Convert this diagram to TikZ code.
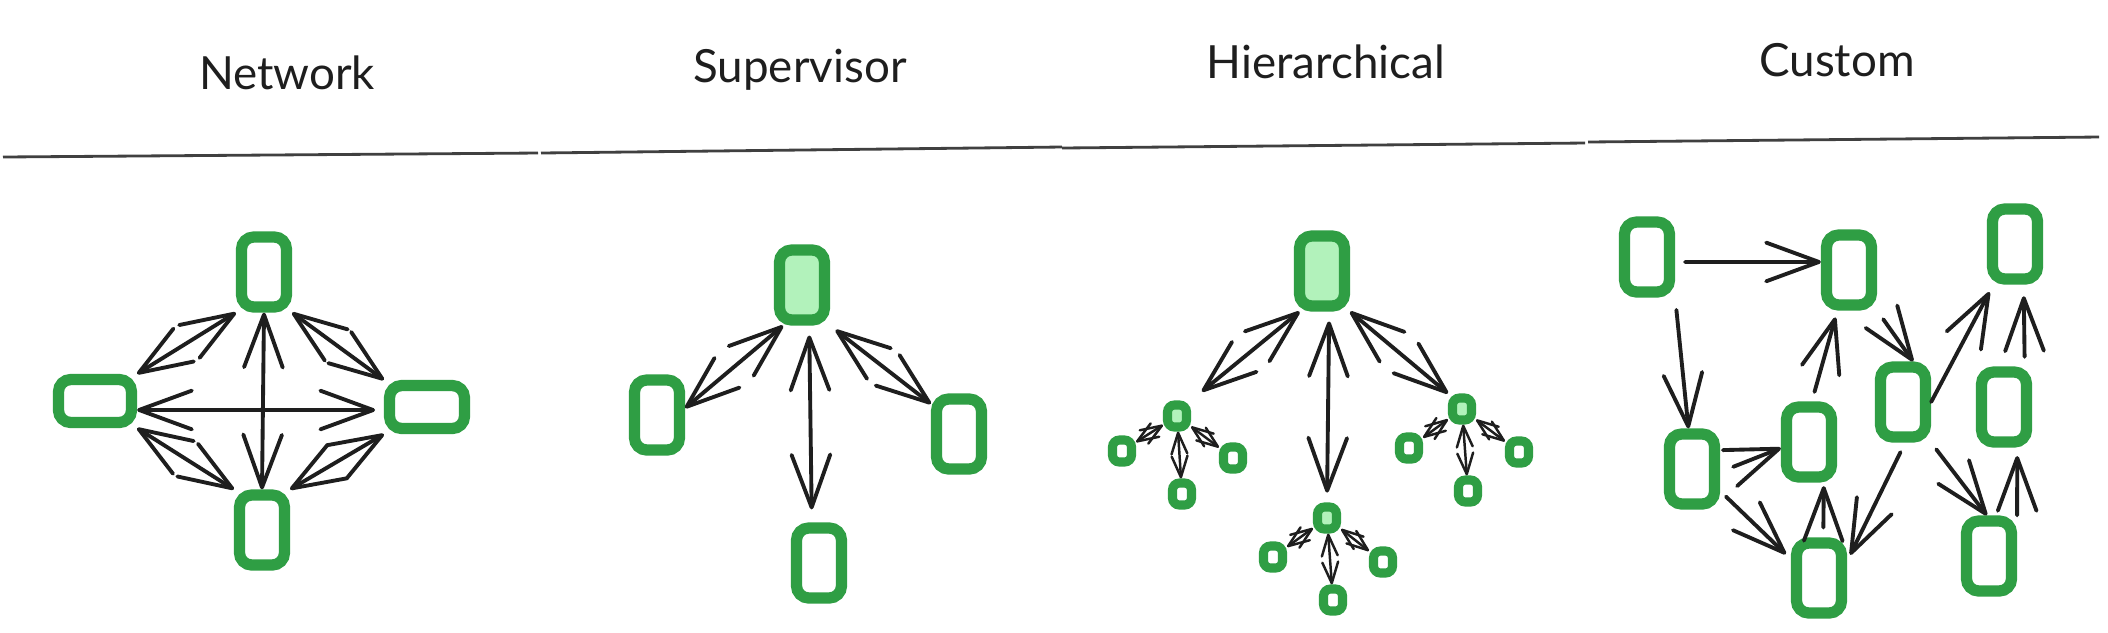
\documentclass[tikz,border=0pt]{standalone}
\usepackage{fontspec}
\setmainfont{Lato}
\usetikzlibrary{arrows.meta}

\definecolor{agentgreen}{HTML}{2F9E44}
\definecolor{agentfill}{HTML}{B2F2BB}
\definecolor{ink}{HTML}{1E1E1E}

\begin{document}
\begin{tikzpicture}[x=0.01cm, y=-0.01cm,
  agent/.style={draw=agentgreen, line width=3.2pt, rounded corners=3.5pt, inner sep=0pt, minimum width=0.45cm, minimum height=0.7cm},
  agentwide/.style={agent, minimum width=0.73cm, minimum height=0.43cm},
  boss/.style={agent, fill=agentfill},
  subagent/.style={draw=agentgreen, line width=2.6pt, rounded corners=2pt, inner sep=0pt, minimum width=0.19cm, minimum height=0.22cm},
  subboss/.style={subagent, fill=agentfill},
  link/.style={draw=ink, line width=1.1pt, line cap=round, >={Straight Barb[length=15pt,width=11pt,round]}},
  twig/.style={draw=ink, line width=0.7pt, line cap=round, >={Straight Barb[length=6pt,width=4.5pt,round]}},
  header/.style={font=\fontsize{13}{15}\selectfont, text=ink, anchor=base, inner sep=0pt},
  rule/.style={draw=ink!85, line width=0.8pt}
]
\useasboundingbox[fill=white] (0,0) rectangle (2108,632);

% headers
\node[header](tnet) at (287, 89) {Network};
\node[header](tsup) at (800, 82) {Supervisor};
\node[header](thie) at (1326, 78) {Hierarchical};
\node[header](tcus) at (1837, 76) {Custom};

\draw[rule] (3,157) -- (538,153);
\draw[rule] (541,153) -- (1062,147);
\draw[rule] (1062,148) -- (1585,143);
\draw[rule] (1588,142) -- (2099,137);

% network
\node[agent](nt) at (264, 272) {};
\node[agentwide](nl) at (95, 401) {};
\node[agentwide, minimum width=0.75cm](nr) at (427, 407) {};
\node[agent](nb) at (262, 530) {};

\draw[link,<->] (nl.north east) -- (nt.south west);
\draw[link,<->,shorten >=2.5pt] (nl.-12) -- (nr.184);
\draw[link,<->] (nt.south) -- (nb.north);
\draw[link,<->] (nl.south east) -- (nb.north west);
\draw[link,<->] (nb.north east) -- (nr.south west);
\draw[link,<->] (nt.south east) -- (nr.north west);

% supervisor
\node[boss](sv) at (802, 285) {};
\node[agent](sa) at (657, 415) {};
\node[agent](sb) at (819, 563) {};
\node[agent](sc) at (959, 434) {};

\draw[link,<->] (sv.-115) -- (sa.14);
\draw[link,<->,shorten <=2.8pt,shorten >=3.7pt] (sv.-80) -- (sb.100);
\draw[link,<->,shorten <=2pt] (sv.south east) -- (sc.133);

% hierarchical
\node[boss](hr) at (1322, 271) {};
\node[subboss](ha) at (1177, 416) {};
\node[subboss](hb) at (1327, 518) {};
\node[subboss](hc) at (1462, 409) {};

\draw[link,<->,shorten >=4pt] (hr.-119) -- (ha.north east);
\draw[link,<->,shorten <=2.8pt,shorten >=2.8pt] (hr.-80) -- (hb.north);
\draw[link,<->] (hr.south east) -- (hc.north west);

  % left team
\node[subagent](ha1) at (1122, 451) {};
\node[subagent](ha2) at (1182, 494) {};
\node[subagent](ha3) at (1233, 458) {};
\draw[twig,<->] (ha) -- (ha1);
\draw[twig,<->] (ha) -- (ha2);
\draw[twig,<->] (ha) -- (ha3);
  % middle team
\node[subagent](hb1) at (1273, 557) {};
\node[subagent](hb2) at (1333, 600) {};
\node[subagent](hb3) at (1383, 562) {};
\draw[twig,<->] (hb) -- (hb1);
\draw[twig,<->] (hb) -- (hb2);
\draw[twig,<->] (hb) -- (hb3);
  % right team
\node[subagent](hc1) at (1409, 448) {};
\node[subagent](hc2) at (1468, 491) {};
\node[subagent](hc3) at (1519, 452) {};
\draw[twig,<->] (hc) -- (hc1);
\draw[twig,<->] (hc) -- (hc2);
\draw[twig,<->] (hc) -- (hc3);

% custom
\node[agent](ca) at (1647, 257) {};
\node[agent](cb) at (1849, 270) {};
\node[agent](cc) at (2015, 244) {};
\node[agent](cd) at (1692, 469) {};
\node[agent](ce) at (1809, 442) {};
\node[agent](cf) at (1903, 402) {};
\node[agent](cg) at (2004, 407) {};
\node[agent](ch) at (1819, 578) {};
\node[agent](ci) at (1989, 556) {};

\draw[link,->,shorten <=2.8pt] (ca.-10) -- (cb.164);
\draw[link,->,shorten <=3.5pt] (ca.south east) -- (cd.95);
\draw[link,->,shorten <=4pt] (cd.-6) -- (ce.-168);
\draw[link,->,shorten <=2.3pt,shorten >=2pt] (cd.-38) -- (ch.146);
\draw[link,->,shorten <=2.8pt,shorten >=1pt] (ch.84) -- (ce.-70);
\draw[link,->,shorten <=2.8pt,shorten >=2pt] (ce.86) -- (cb.-106);
\draw[link,->,shorten <=3pt] (cb.south east) -- (cf.76);
\draw[link,->,shorten >=2.4pt] (cf.east) -- (cc.-118);
\draw[link,->,shorten <=3pt,shorten >=2pt] (cf.-87) -- (ch.31);
\draw[link,->,shorten <=2.4pt] (cf.south east) -- (ci.93);
\draw[link,->,shorten >=2.4pt] (ci.north east) -- (cg.-72);
\draw[link,->,shorten <=2.7pt,shorten >=3.3pt] (cg.63) -- (cc.-78);

\end{tikzpicture}
\end{document}
